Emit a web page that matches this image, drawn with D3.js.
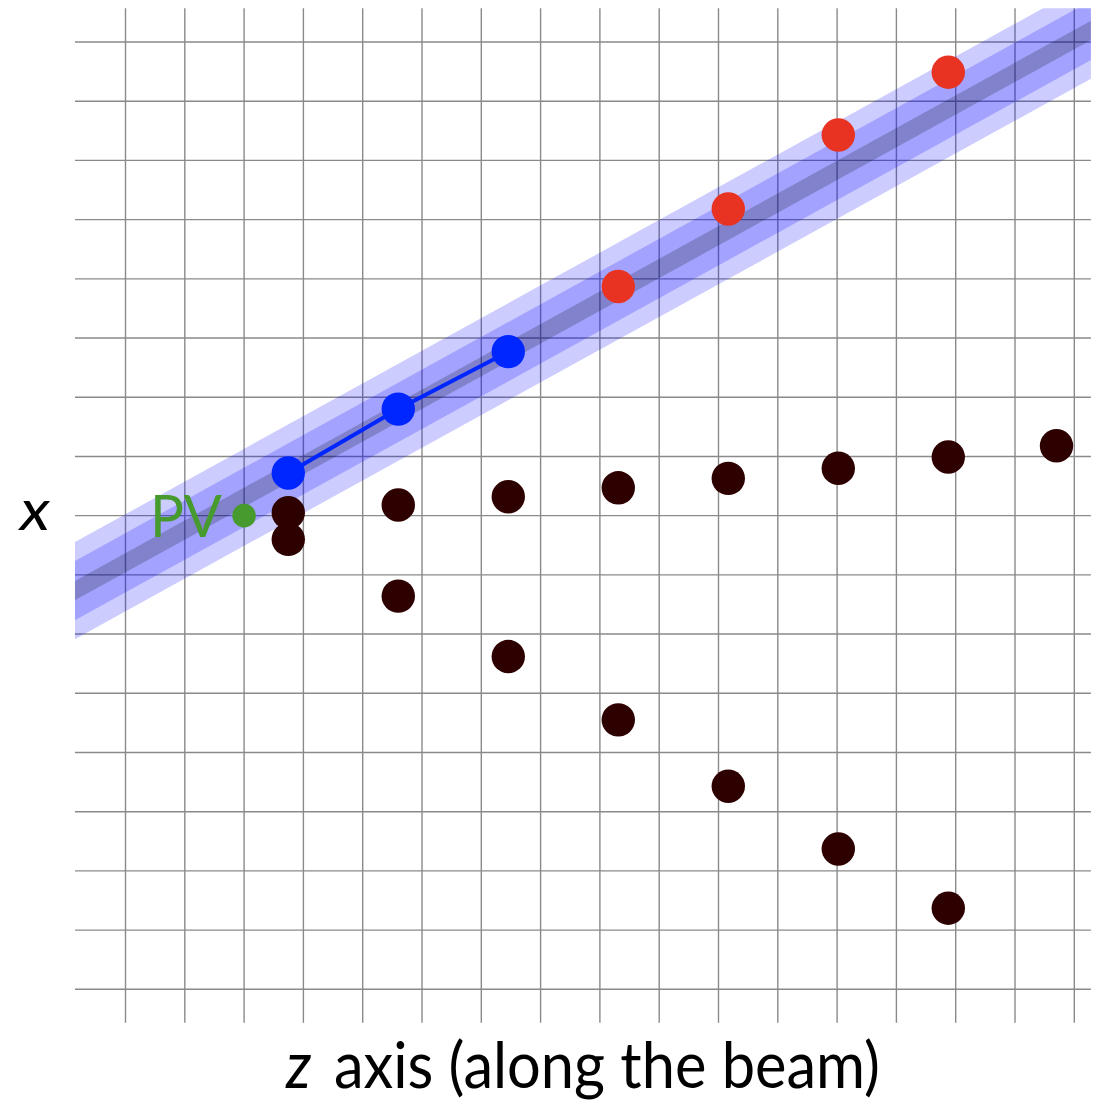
<!DOCTYPE html>
<html>
<head>
<meta charset="utf-8">
<script src="https://cdn.jsdelivr.net/npm/d3@7"></script>
<style>
  body { margin: 0; background: #fff; }
  svg { display: block; }
  text { font-family: Lato, "Open Sans", sans-serif; }
</style>
</head>
<body>
<svg id="chart" width="1106" height="1101"></svg>
<script>
// grid units: z = detector axis (along the beam), x = transverse
const gridZ = [0, 1, 2, 3, 4, 5, 6, 7, 8, 9, 10, 11, 12, 13, 14, 15, 16];
const gridX = [-8, -7, -6, -5, -4, -3, -2, -1, 0, 1, 2, 3, 4, 5, 6, 7, 8];

const pv = { z: 2, x: 0 };

// hits that seed the track (blue) and the ones it picks up (red)
const seedZ = [2.745, 4.60, 6.455];
const seedX = [0.72, 1.80, 2.77];
const foundZ = [8.31, 10.165, 12.02, 13.875];
const foundX = [3.87, 5.18, 6.43, 7.49];

// other hits in each layer
const upperZ = [2.745, 4.60, 6.455, 8.31, 10.165, 12.02, 13.875, 15.70];
const upperX = [0.05, 0.18, 0.32, 0.47, 0.63, 0.80, 0.99, 1.18];
const lowerZ = [2.745, 4.60, 6.455, 8.31, 10.165, 12.02, 13.875];
const lowerX = [-0.40, -1.36, -2.38, -3.45, -4.57, -5.63, -6.63];

// search window around the extrapolated track
const bandZ = [-2, 17.5];
const bandX = [-1.90, 8.87];

const svg = d3.select("#chart");

const z = d3.scaleLinear().domain([0, 16]).range([125.5, 1074.3]);
const x = d3.scaleLinear().domain([-8, 8]).range([989.3, 42]);

const zMin = -0.852, zMax = 16.28;
const xMin = -8.565, xMax = 8.57;

// grid
const grid = svg.append("g")
  .attr("stroke", "#8a8a8a")
  .attr("stroke-width", 1.4);

grid.selectAll(".vline")
  .data(gridZ)
  .enter()
  .append("line")
  .attr("class", "vline")
  .attr("x1", d => z(d)).attr("x2", d => z(d))
  .attr("y1", x(xMax)).attr("y2", x(xMin));

grid.selectAll(".hline")
  .data(gridX)
  .enter()
  .append("line")
  .attr("class", "hline")
  .attr("x1", z(zMin)).attr("x2", z(zMax))
  .attr("y1", d => x(d)).attr("y2", d => x(d));

// band, clipped to the grid area
svg.append("clipPath")
  .attr("id", "grid-clip")
  .append("rect")
  .attr("x", z(zMin))
  .attr("y", x(xMax))
  .attr("width", z(zMax) - z(zMin))
  .attr("height", x(xMin) - x(xMax));

const bandPts = bandZ.map((d, i) => [z(d), x(bandX[i])]);
const band = svg.append("g").attr("clip-path", "url(#grid-clip)");

const bandLayers = [
  { width: 85, color: "#0000ff", opacity: 0.2 },
  { width: 52, color: "#0000ff", opacity: 0.2 },
  { width: 17, color: "#000000", opacity: 0.2 }
];

band.selectAll("path")
  .data(bandLayers)
  .enter()
  .append("path")
  .attr("d", d3.line()(bandPts))
  .attr("fill", "none")
  .attr("stroke", d => d.color)
  .attr("stroke-opacity", d => d.opacity)
  .attr("stroke-width", d => d.width);

// other hits
const others = upperZ.map((d, i) => ({ z: d, x: upperX[i] }))
  .concat(lowerZ.map((d, i) => ({ z: d, x: lowerX[i] })));

svg.selectAll(".hit")
  .data(others)
  .enter()
  .append("circle")
  .attr("class", "hit")
  .attr("cx", d => z(d.z))
  .attr("cy", d => x(d.x))
  .attr("r", 16.7)
  .attr("fill", "#2e0101");

// seed segment + hits
const seed = seedZ.map((d, i) => ({ z: d, x: seedX[i] }));

svg.append("path")
  .datum(seed)
  .attr("d", d3.line().x(d => z(d.z)).y(d => x(d.x)))
  .attr("fill", "none")
  .attr("stroke", "#0026ff")
  .attr("stroke-width", 4);

svg.selectAll(".seed")
  .data(seed)
  .enter()
  .append("circle")
  .attr("class", "seed")
  .attr("cx", d => z(d.z))
  .attr("cy", d => x(d.x))
  .attr("r", 16.7)
  .attr("fill", "#0026ff");

svg.selectAll(".found")
  .data(foundZ.map((d, i) => ({ z: d, x: foundX[i] })))
  .enter()
  .append("circle")
  .attr("class", "found")
  .attr("cx", d => z(d.z))
  .attr("cy", d => x(d.x))
  .attr("r", 16.7)
  .attr("fill", "#e83323");

// primary vertex
svg.append("circle")
  .attr("cx", z(pv.z))
  .attr("cy", x(pv.x))
  .attr("r", 11.8)
  .attr("fill", "#479a2e");

// labels: size set for the glyph height, width forced to the picture's
svg.append("text")
  .attr("x", 150)
  .attr("y", 537)
  .attr("font-size", 58)
  .attr("textLength", 72)
  .attr("lengthAdjust", "spacingAndGlyphs")
  .attr("fill", "#479a2e")
  .text("PV");

svg.append("text")
  .attr("x", 20)
  .attr("y", 530)
  .attr("font-size", 56)
  .attr("font-style", "italic")
  .attr("textLength", 30)
  .attr("lengthAdjust", "spacingAndGlyphs")
  .text("x");

const zLabel = svg.append("text")
  .attr("x", 286)
  .attr("y", 1088)
  .attr("font-size", 64)
  .attr("textLength", 594)
  .attr("lengthAdjust", "spacingAndGlyphs");
zLabel.append("tspan").attr("font-style", "italic").text("z");
zLabel.append("tspan").text("\u2009 axis (along the beam)");
</script>
</body>
</html>
